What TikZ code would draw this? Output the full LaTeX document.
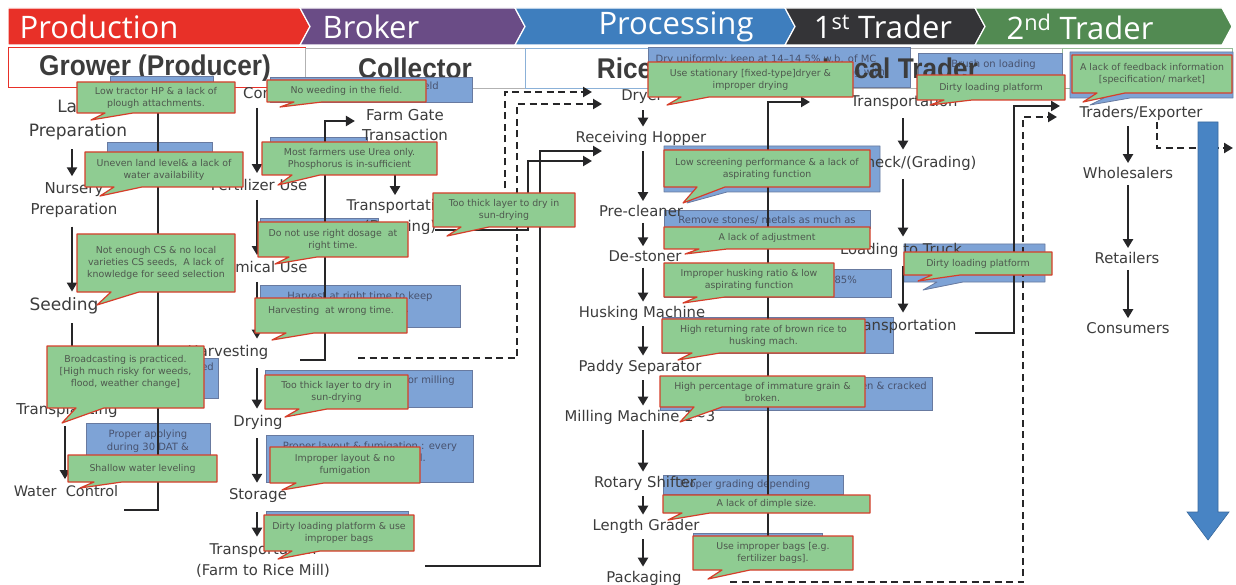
\documentclass[tikz,border=0pt]{standalone}
\usepackage{fontspec}
\setmainfont{DejaVu Sans}
\newfontfamily\bandfont{Open Sans}
\newfontfamily\rowfont[FakeStretch=0.92]{Liberation Sans}
\usetikzlibrary{arrows.meta}

\definecolor{bandred}{RGB}{232,48,40}
\definecolor{bandpurple}{RGB}{106,76,134}
\definecolor{bandblue}{RGB}{62,126,190}
\definecolor{banddark}{RGB}{52,52,55}
\definecolor{bandgreen}{RGB}{82,138,82}
\definecolor{notegreen}{RGB}{143,204,146}
\definecolor{notered}{RGB}{214,62,42}
\definecolor{noteblue}{RGB}{126,163,214}
\definecolor{noteedge}{RGB}{104,122,160}
\definecolor{ink}{RGB}{60,60,60}
\definecolor{linecol}{RGB}{38,38,40}
\definecolor{notetext}{RGB}{78,88,78}
\definecolor{bluetext}{RGB}{72,82,110}
\definecolor{bigblue}{RGB}{72,132,196}

% green remark with a pointer: x1,y1,x2,y2,tipx,tipy,name,text
\newcommand\callout[8]{%
  \path[fill=notegreen, draw=notered, line width=1.2pt, line join=round]
    (#1,#2) -- (#3,#2) -- (#3,#4) -- ({#5+42},#4) -- (#5,#6) -- ({#5+14},#4) -- (#1,#4) -- cycle;
  \node[notetxt] (#7) at ({(#1+#3)/2},{(#2+#4)/2}) {#8};
}
% blue proposal box: x1,y1,x2,y2
\newcommand\notebox[4]{%
  \path[fill=noteblue, draw=noteedge, line width=0.8pt] (#1,#2) rectangle (#3,#4);
}
% blue proposal box with pointer: x1,y1,x2,y2,tipx,tipy
\newcommand\noteboxtail[6]{%
  \path[fill=noteblue, draw=noteedge, line width=0.8pt, line join=round]
    (#1,#2) -- (#3,#2) -- (#3,#4) -- ({#5+40},#4) -- (#5,#6) -- ({#5+14},#4) -- (#1,#4) -- cycle;
}

\begin{document}
\begin{tikzpicture}[x=1pt,y=-1pt,
  bandtxt/.style={font=\bandfont\fontsize{31}{34}\selectfont, text=white, inner sep=0pt},
  rowtxt/.style={font=\rowfont\bfseries\fontsize{28.5}{30}\selectfont, text=ink, inner sep=0pt},
  lbl/.style={font=\fontsize{14.8}{21}\selectfont, text=ink, align=center, inner sep=1pt},
  notetxt/.style={font=\fontsize{9.4}{12}\selectfont, text=notetext, align=center, inner sep=0pt},
  bluetxt/.style={font=\fontsize{10}{12.5}\selectfont, text=bluetext, align=center, inner sep=0pt},
  flow/.style={draw=linecol, line width=2.6pt, -{Triangle[width=10pt,length=9pt]}, shorten <=8pt, shorten >=5pt},
  link/.style={draw=linecol, line width=2.6pt},
  linkarrow/.style={link, -{Triangle[width=10pt,length=9pt]}},
  dlinkarrow/.style={linkarrow, dash pattern=on 7pt off 4.5pt},
]
\useasboundingbox (0,0) rectangle (1236,585);
\fill[white] (0,0) rectangle (1236,585);

% ---- stage bands ----
\path[fill=bandred, draw=white, line width=1.2pt] (8,8) -- (300,8) -- (310,26.5) -- (300,45) -- (8,45) -- cycle;
\path[fill=bandpurple, draw=white, line width=1.2pt] (300,8) -- (515,8) -- (525,26.5) -- (515,45) -- (300,45) -- (310,26.5) -- cycle;
\path[fill=bandblue, draw=white, line width=1.2pt] (515,8) -- (785,8) -- (795,26.5) -- (785,45) -- (515,45) -- (525,26.5) -- cycle;
\path[fill=banddark, draw=white, line width=1.2pt] (785,8) -- (975,8) -- (985,26.5) -- (975,45) -- (785,45) -- (795,26.5) -- cycle;
\path[fill=bandgreen, draw=white, line width=1.2pt] (975,8) -- (1222,8) -- (1232,26.5) -- (1222,45) -- (975,45) -- (985,26.5) -- cycle;
\node[bandtxt] (hprod) at (99,27) {Production};
\node[bandtxt] (hbrok) at (371,27) {Broker};
\node[bandtxt] (hproc) at (676,27) {Processing};
\node[bandtxt] (hfirst) at (883,27) {1\textsuperscript{st} Trader};
\node[bandtxt] (hsecond) at (1080,27) {2\textsuperscript{nd} Trader};

% ---- actor row ----
\draw[bandred, line width=1pt, fill=white] (8,48) rectangle (305,88);
\draw[gray!60, line width=0.8pt, fill=white] (305,48) rectangle (525,88);
\draw[bandblue!60, line width=0.8pt, fill=white] (525,48) rectangle (785,88);
\draw[gray!60, line width=0.8pt, fill=white] (785,48) rectangle (1062,88);
\draw[bandgreen!60, line width=0.8pt, fill=white] (1062,48) rectangle (1232,88);
\node[rowtxt] (agrower) at (155,68) {Grower (Producer)};
\node[rowtxt] (acollector) at (415,68) {Collector};
\node[rowtxt] (aricemill) at (650,68) {Rice Mill};

% ---- blue proposal boxes ----
\notebox{110}{76}{213}{100}
\notebox{107}{142}{212}{165}
\notebox{120}{358}{218}{398}
\node[bluetxt, anchor=east] (pbroad) at (214,368) {Transplanting is recommended};
\notebox{86}{423}{210}{460}
\node[bluetxt] (papply) at (148,441) {Proper applying\\during 30 DAT \&};
\notebox{270}{77}{472}{102}
\node[bluetxt] (pweed) at (371,87) {Timely weeding in the field};
\notebox{270}{137}{367}{165}
\notebox{260}{218}{378}{240}
\notebox{260}{285}{460}{327}
\node[bluetxt] (pharvest) at (360,303) {Harvest at right time to keep\\20--25\% of MC, w.b.};
\notebox{265}{370}{472}{407}
\node[bluetxt, anchor=east] (pmill) at (455,381) {Dry to 14\% MC for milling};
\notebox{266}{435}{473}{482}
\node[bluetxt] (pstore) at (370,452) {Proper layout \& fumigation : every\\three months interval.};
\notebox{266}{511}{408}{530}
\notebox{648}{47}{910}{87}
\node[bluetxt] (pdryer) at (766,66) {Dry uniformly; keep at 14--14.5\% w.b. of MC\\avoid over-drying and cracking, tempering with};
\noteboxtail{664}{146}{880}{192}{687}{203}
\notebox{664}{210}{870}{228}
\node[bluetxt] (pstone) at (767,220) {Remove stones/ metals as much as};
\notebox{664}{269}{891}{297}
\node[bluetxt, anchor=east] (phusk) at (857,281) {Keep husking ratio at 80--85\%};
\notebox{662}{317}{893}{353}
\notebox{660}{377}{932}{410}
\node[bluetxt, anchor=east] (pbroken) at (927,386) {Reduce immature, broken \& cracked};
\notebox{663}{475}{843}{494}
\node[bluetxt] (pgrade) at (745,485) {Proper grading depending};
\notebox{693}{533}{822}{545}
\notebox{918}{53}{1062}{75}
\node[bluetxt, anchor=east] (pload) at (1036,65) {Brush on loading};
\noteboxtail{904}{244}{1045}{282}{923}{290}
\noteboxtail{1070}{52}{1233}{98}{1090}{105}

\node[rowtxt] (alocal) at (900,68) {Local Trader};

% ---- process steps ----
\node[lbl, font=\fontsize{17}{24}\selectfont] (g1) at (78,120) {Land\\Preparation};
\node[lbl, font=\fontsize{15}{21}\selectfont] (g2) at (74,200) {Nursery\\Preparation};
\node[lbl, font=\fontsize{17}{24}\selectfont] (g3) at (64,306) {Seeding};
\node[lbl, font=\fontsize{15}{21}\selectfont] (g4) at (67,410) {Transplanting};
\node[lbl, font=\fontsize{14.5}{21}\selectfont] (g5) at (66,491) {Water\ \ Control};

\node[lbl, anchor=west] (c1) at (242,93) {Control Weeds};
\node[lbl] (c2) at (259,185) {Fertilizer Use};
\node[lbl] (c3) at (257,267) {Chemical Use};
\node[lbl] (c4) at (228,352) {Harvesting};
\node[lbl] (c5) at (258,422) {Drying};
\node[lbl] (c6) at (258,496) {Storage};
\node[lbl] (c7) at (263,560) {Transportation\\(Farm to Rice Mill)};
\node[lbl, font=\fontsize{15}{20}\selectfont] (m1) at (405,125) {Farm Gate\\Transaction};
\node[lbl] (m2) at (400,217) {Transportation\\(Bagging)};

\node[lbl] (r1) at (642,97) {Dryer};
\node[lbl] (r2) at (641,138) {Receiving Hopper};
\node[lbl] (r3) at (641,211) {Pre-cleaner};
\node[lbl] (r4) at (645,256) {De-stoner};
\node[lbl] (r5) at (642,313) {Husking Machine};
\node[lbl] (r6) at (640,367) {Paddy Separator};
\node[lbl] (r7) at (640,417) {Milling Machine 1\textasciitilde3};
\node[lbl] (r8) at (645,483) {Rotary Shifter};
\node[lbl] (r9) at (646,526) {Length Grader};
\node[lbl] (r10) at (644,578) {Packaging};

\node[lbl] (l1) at (904,102) {Transportation};
\node[lbl] (l2) at (916,163) {Check/(Grading)};
\node[lbl] (l3) at (901,250) {Loading to Truck};
\node[lbl] (l4) at (903,326) {Transportation};

\node[lbl] (t1) at (1141,113) {Traders/Exporter};
\node[lbl] (t2) at (1128,173) {Wholesalers};
\node[lbl] (t3) at (1127,258) {Retailers};
\node[lbl] (t4) at (1128,328) {Consumers};

% step arrows
\coordinate (gx) at (72,0);
\coordinate (cx) at (257,0);
\coordinate (mx) at (395,0);
\coordinate (rx) at (643,0);
\coordinate (lx) at (903,0);
\coordinate (tx) at (1128,0);
\foreach \a/\b in {g1/g2,g2/g3,g3/g4}
  \draw[flow] (\a.south -| gx) -- (\b.north -| gx);
\draw[flow] (g4.south -| 65,0) -- (g5.north -| 65,0);
\foreach \a/\b in {c1/c2,c2/c3,c3/c4,c4/c5,c5/c6,c6/c7}
  \draw[flow] (\a.south -| cx) -- (\b.north -| cx);
\draw[flow, shorten <=4pt, shorten >=3pt] (m1.south -| mx) -- (m2.north -| mx);
\foreach \a/\b in {r1/r2,r2/r3,r3/r4,r4/r5,r5/r6,r6/r7,r7/r8,r8/r9,r9/r10}
  \draw[flow, shorten <=5pt, shorten >=3pt] (\a.south -| rx) -- (\b.north -| rx);
\foreach \a/\b in {l1/l2,l2/l3,l3/l4}
  \draw[flow] (\a.south -| lx) -- (\b.north -| lx);
\foreach \a/\b in {t1/t2,t2/t3,t3/t4}
  \draw[flow, shorten <=5pt, shorten >=3pt] (\a.south -| tx) -- (\b.north -| tx);

% ---- hand-over connectors ----
\coordinate (gTop) at (158,90);
\coordinate (gFoot) at (124,510);
\draw[link] (gFoot) -| (gTop);

\coordinate (cFoot) at (300,360);
\coordinate (cTurn) at (325,121);
\draw[linkarrow, shorten >=6pt] (cFoot) -| (cTurn) -- (cTurn -| m1.west);

\coordinate (dIn) at (358,358);
\coordinate (dInTurn) at (517,104);
\coordinate (dryIn2) at (602,104);
\draw[dlinkarrow] (dIn) -| (dInTurn) -- (dryIn2);
\coordinate (dOut) at (505,200);
\coordinate (dryIn1) at (592,92);
\draw[dlinkarrow] (dOut) |- (dryIn1);

\coordinate (sFoot) at (425,566);
\coordinate (sTurn) at (540,151);
\coordinate (hopIn1) at (602,151);
\draw[linkarrow] (sFoot) -| (sTurn) -- (hopIn1);
\coordinate (tFoot) at (435,230);
\coordinate (tTurn) at (528,161);
\coordinate (hopIn2) at (592,161);
\draw[linkarrow] (tFoot) -| (tTurn) -- (hopIn2);

\coordinate (rmFoot) at (768,536);
\coordinate (ltIn) at (810,102);
\draw[linkarrow] (rmFoot) |- (ltIn);

\coordinate (ltFoot) at (975,333);
\coordinate (ltTurn) at (1014,106);
\coordinate (stIn1) at (1060,106);
\draw[linkarrow] (ltFoot) -| (ltTurn) -- (stIn1);

\coordinate (pkFoot) at (730,582);
\coordinate (pkTurn) at (1023,117);
\coordinate (stIn2) at (1057,117);
\draw[dlinkarrow] (pkFoot) -| (pkTurn) -- (stIn2);

\coordinate (exFoot) at (1157,122);
\coordinate (exOut) at (1233,148);
\draw[dlinkarrow] (exFoot) |- (exOut);

% big downstream arrow
\path[fill=bigblue, draw=bigblue!80!black, line width=0.6pt]
  (1198,122) -- (1218,122) -- (1218,512) -- (1229,512) -- (1208,540) -- (1187,512) -- (1198,512) -- cycle;

% ---- green problem remarks ----
\callout{77}{82}{235}{113}{91}{120}{n1}{Low tractor HP \& a lack of\\plough attachments.}
\callout{85}{152}{243}{187}{100}{196}{n2}{Uneven land level\& a lack of\\water availability}
\callout{77}{234}{235}{292}{97}{305}{n3}{Not enough CS \& no local\\varieties CS seeds,\ \ A lack of\\knowledge for seed selection}
\callout{47}{346}{204}{408}{62}{423}{n4}{Broadcasting is practiced.\\\mbox{[High much risky for weeds,}\\flood, weather change]\\\mbox{}}
\callout{68}{455}{217}{482}{80}{488}{n5}{Shallow water leveling}
\callout{267}{80}{426}{102}{280}{107}{n6}{No weeding in the field.}
\callout{262}{142}{437}{175}{278}{185}{n7}{Most farmers use Urea only.\\Phosphorus is in-sufficient}
\callout{258}{222}{408}{257}{275}{264}{n8}{Do not use right dosage\ \ at\\right time.}
\callout{255}{298}{407}{333}{272}{340}{n9}{Harvesting\ \ at wrong time.\\\mbox{}}
\callout{265}{375}{408}{409}{285}{417}{n10}{Too thick layer to dry in\\sun-drying}
\callout{270}{447}{420}{483}{282}{490}{n11}{Improper layout \& no\\fumigation}
\callout{264}{515}{414}{551}{278}{559}{n12}{Dirty loading platform \& use\\improper bags}
\callout{433}{193}{575}{227}{447}{236}{n13}{Too thick layer to dry in\\sun-drying}
\callout{648}{62}{853}{97}{667}{105}{n14}{Use stationary [fixed-type]dryer \&\\improper drying}
\callout{664}{150}{870}{187}{683}{203}{n15}{Low screening performance \& a lack of\\aspirating function}
\callout{664}{227}{870}{249}{685}{254}{n16}{A lack of adjustment}
\callout{664}{263}{834}{297}{683}{303}{n17}{Improper husking ratio \& low\\aspirating function}
\callout{662}{319}{865}{353}{678}{360}{n18}{High returning rate of brown rice to\\husking mach.}
\callout{660}{376}{865}{407}{680}{422}{n19}{High percentage of immature grain \&\\broken.}
\callout{663}{495}{870}{513}{668}{520}{n20}{A lack of dimple size.}
\callout{693}{536}{853}{570}{708}{579}{n21}{Use improper bags [e.g.\\fertilizer bags].}
\callout{917}{75}{1065}{100}{930}{105}{n22}{Dirty loading platform}
\callout{904}{252}{1052}{275}{918}{281}{n23}{Dirty loading platform}
\callout{1072}{55}{1232}{93}{1083}{102}{n24}{A lack of feedback information\\\mbox{[specification/ market]}}
\end{tikzpicture}
\end{document}
